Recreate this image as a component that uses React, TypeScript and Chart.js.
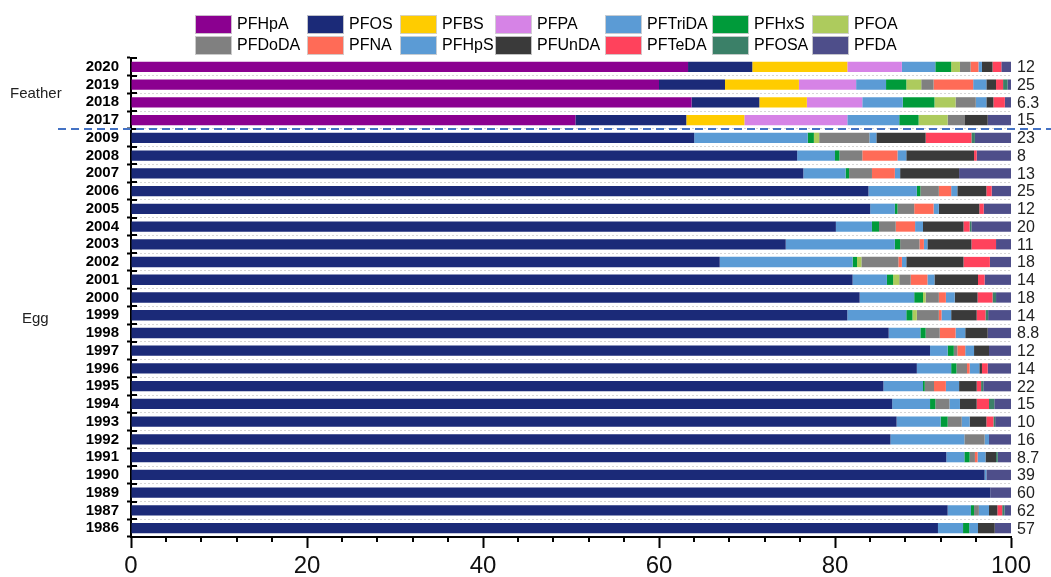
import React, { useEffect, useRef } from "react";
import { Chart, registerables } from "chart.js";

Chart.register(...registerables);

const years = ["2020","2019","2018","2017","2009","2008","2007","2006","2005","2004","2003","2002","2001","2000","1999","1998","1997","1996","1995","1994","1993","1992","1991","1990","1989","1987","1986"];

const totals = ["12","25","6.3","15","23","8","13","25","12","20","11","18","14","18","14","8.8","12","14","22","15","10","16","8.7","39","60","62","57"];

const PFHpA = [63.3, 60.0, 63.7, 50.5, 0,0,0,0,0,0,0,0,0,0,0,0,0,0,0,0,0,0,0,0,0,0,0];
const PFOS = [7.3, 7.5, 7.7, 12.6, 64.0, 75.7, 76.4, 83.8, 84.0, 80.1, 74.4, 66.9, 82.0, 82.8, 81.4, 86.1, 90.8, 89.3, 85.5, 86.5, 87.0, 86.3, 92.65, 97.0, 97.65, 92.8, 91.7];
const PFBS = [10.8, 8.4, 5.4, 6.6, 0,0,0,0,0,0,0,0,0,0,0,0,0,0,0,0,0,0,0,0,0,0,0];
const PFPA = [6.2, 6.5, 6.3, 11.7, 0,0,0,0,0,0,0,0,0,0,0,0,0,0,0,0,0,0,0,0,0,0,0];
const PFTriDA = [3.8, 3.4, 4.6, 5.9, 12.9, 4.3, 4.8, 5.5, 2.8, 4.1, 12.4, 15.1, 3.9, 6.2, 6.7, 3.6, 2.0, 3.9, 4.5, 4.3, 5.0, 8.4, 2.05, 0.2, 0, 2.65, 2.85];
const PFHxS = [1.8, 2.3, 3.6, 2.2, 0.7, 0.5, 0.4, 0.4, 0.3, 0.8, 0.6, 0.5, 0.7, 1.0, 0.7, 0.6, 0.7, 0.6, 0.2, 0.6, 0.8, 0, 0.6, 0, 0, 0.35, 0.7];
const PFOA = [1.0, 1.7, 2.4, 3.3, 0.6, 0, 0, 0, 0, 0, 0, 0.5, 0.7, 0.3, 0.5, 0, 0, 0, 0, 0, 0, 0, 0, 0, 0, 0, 0];
const PFDoDA = [1.2, 1.4, 2.3, 1.9, 5.7, 2.6, 2.6, 2.1, 1.9, 1.9, 2.2, 4.2, 1.3, 1.5, 2.5, 1.6, 0.4, 1.2, 1.05, 1.6, 1.6, 2.3, 0.6, 0, 0, 0.55, 0];
const PFNA = [0.9, 4.5, 0, 0, 0, 4.0, 2.6, 1.4, 2.2, 2.2, 0.5, 0.4, 1.9, 0.8, 0.3, 1.8, 0.9, 0.3, 1.35, 0, 0, 0, 0.3, 0, 0, 0, 0];
const PFHpS = [0.4, 1.5, 1.2, 0, 0.8, 1.0, 0.6, 0.7, 0.6, 0.9, 0.4, 0.5, 0.8, 1.0, 1.1, 1.1, 1.0, 1.1, 1.5, 1.2, 0.9, 0.5, 0.9, 0, 0, 1.15, 1.0];
const PFUnDA = [1.2, 1.1, 0.8, 2.65, 5.6, 7.7, 6.7, 3.3, 4.6, 4.6, 5.0, 6.5, 4.95, 2.6, 2.9, 2.55, 1.7, 0.3, 2.0, 1.9, 1.9, 0, 1.2, 0, 0, 0.95, 1.9];
const PFTeDA = [1.0, 0.8, 1.3, 0, 5.2, 0.3, 0, 0.6, 0.5, 0.7, 2.8, 3.0, 0.75, 1.7, 1.0, 0, 0, 0.65, 0.5, 1.4, 0.8, 0, 0, 0, 0, 0.55, 0];
const PFOSA = [0, 0.5, 0, 0, 0.4, 0, 0, 0, 0, 0.2, 0, 0, 0, 0.4, 0.3, 0, 0, 0, 0.25, 0.6, 0.2, 0, 0.2, 0, 0, 0.25, 0];
const PFDA = [1.1, 0.4, 0.7, 2.65, 4.1, 3.9, 5.9, 2.2, 3.1, 4.5, 1.7, 2.4, 3.0, 1.7, 2.6, 2.65, 2.5, 2.65, 3.15, 1.9, 1.8, 2.5, 1.5, 2.8, 2.35, 0.75, 1.85];

const seriesNames = ["PFHpA","PFOS","PFBS","PFPA","PFTriDA","PFHxS","PFOA","PFDoDA","PFNA","PFHpS","PFUnDA","PFTeDA","PFOSA","PFDA"];
const seriesValues = [PFHpA, PFOS, PFBS, PFPA, PFTriDA, PFHxS, PFOA, PFDoDA, PFNA, PFHpS, PFUnDA, PFTeDA, PFOSA, PFDA];
const seriesColors = ["#8B0090","#1B2A78","#FFCC00","#D683E6","#5B9BD5","#009B3A","#ADCB5D","#808080","#FF6B57","#5B9BD5","#3A3A3A","#FF425C","#3B8068","#4E4E8A"];

const legendRows = [
  ["PFHpA","PFOS","PFBS","PFPA","PFTriDA","PFHxS","PFOA"],
  ["PFDoDA","PFNA","PFHpS","PFUnDA","PFTeDA","PFOSA","PFDA"],
];
const groupLabels = [
  { text: "Feather", at: 1.5, x: 10 },
  { text: "Egg", at: 14.2, x: 22 },
];

const FONT = "Arial, 'Liberation Sans', sans-serif";

const overlayPlugin = {
  id: "overlay",
  afterDraw(chart: any) {
    const ctx = chart.ctx;
    const xs = chart.scales.x;
    const ys = chart.scales.y;
    const area = chart.chartArea;
    ctx.save();
    // minor x ticks
    ctx.strokeStyle = "#000";
    ctx.lineWidth = 2;
    for (let v = 0; v <= 100; v += 4) {
      if (v % 20 === 0) continue;
      const px = Math.round(xs.getPixelForValue(v));
      ctx.beginPath();
      ctx.moveTo(px, area.bottom);
      ctx.lineTo(px, area.bottom + 5);
      ctx.stroke();
    }
    // y ticks inner part
    for (let i = 0; i <= years.length; i++) {
      const py = Math.round(ys.getPixelForValue(i - 0.5));
      ctx.beginPath();
      ctx.moveTo(area.left, py);
      ctx.lineTo(area.left + 6, py);
      ctx.stroke();
    }
    // totals
    ctx.fillStyle = "#222";
    ctx.font = `16px ${FONT}`;
    ctx.textAlign = "left";
    ctx.textBaseline = "middle";
    totals.forEach((t, i) => {
      ctx.fillText(t, area.right + 6, ys.getPixelForValue(i) + 1);
    });
    // group labels
    ctx.font = `15px ${FONT}`;
    groupLabels.forEach((g) => {
      ctx.fillText(g.text, g.x, ys.getPixelForValue(g.at));
    });
    // separator
    const sy = ys.getPixelForValue(3.5);
    ctx.strokeStyle = "#4472C4";
    ctx.lineWidth = 2;
    ctx.setLineDash([8, 5]);
    ctx.beginPath();
    ctx.moveTo(58, sy);
    ctx.lineTo(chart.width, sy);
    ctx.stroke();
    ctx.setLineDash([]);
    // legend
    const colX = [195, 307, 400, 495, 605, 712, 812];
    const rowTop = [15, 36];
    ctx.font = `16px ${FONT}`;
    ctx.textBaseline = "middle";
    legendRows.forEach((row, r) => {
      row.forEach((name, c) => {
        const idx = seriesNames.indexOf(name);
        const bx = colX[c];
        const by = rowTop[r];
        ctx.fillStyle = seriesColors[idx];
        ctx.fillRect(bx, by, 37, 19);
        ctx.strokeStyle = "rgba(210,210,210,0.9)";
        ctx.lineWidth = 1;
        ctx.strokeRect(bx + 0.5, by + 0.5, 36, 18);
        ctx.fillStyle = "#000";
        ctx.fillText(name, bx + 42, by + 10);
      });
    });
    ctx.restore();
  },
};

export default function App() {
  const ref = useRef<HTMLCanvasElement | null>(null);
  useEffect(() => {
    document.body.style.margin = "0";
    const canvas = ref.current;
    if (!canvas) return;
    const chart = new Chart(canvas, {
      type: "bar",
      data: {
        labels: years,
        datasets: seriesNames.map((name, i) => ({
          label: name,
          data: seriesValues[i],
          backgroundColor: seriesColors[i],
          borderWidth: 0,
          barPercentage: 0.58,
          categoryPercentage: 1,
        })),
      },
      options: {
        indexAxis: "y",
        responsive: false,
        animation: false,
        layout: { padding: { top: 58, right: 40, left: 0, bottom: 0 } },
        plugins: {
          legend: { display: false },
          tooltip: { enabled: false },
        },
        scales: {
          x: {
            stacked: true,
            min: 0,
            max: 100,
            afterFit: (s: any) => { s.height = 40; },
            ticks: {
              stepSize: 20,
              color: "#111",
              font: { family: FONT, size: 24 },
              padding: 4,
              maxRotation: 0,
            },
            grid: {
              drawOnChartArea: false,
              tickLength: 11,
              tickColor: "#000",
              tickWidth: 2,
            },
            border: { display: true, color: "#000", width: 2 },
          },
          y: {
            stacked: true,
            afterFit: (s: any) => { s.width = 131; },
            ticks: {
              color: "#000",
              font: { family: FONT, size: 15, weight: "bold" },
              padding: 8,
              autoSkip: false,
            },
            grid: {
              offset: true,
              color: (c: any) => (c.index === 0 ? "rgba(0,0,0,0)" : "#d6d6d6"),
              lineWidth: 1,
              tickLength: 4,
              tickColor: "#000",
              tickWidth: 2,
            },
            border: { display: true, color: "#000", width: 2, dash: [2, 2] },
          },
        },
      },
      plugins: [overlayPlugin],
    } as any);
    return () => chart.destroy();
  }, []);
  return (
    <div style={{ width: 1051, height: 577 }}>
      <canvas ref={ref} width={1051} height={577} />
    </div>
  );
}
